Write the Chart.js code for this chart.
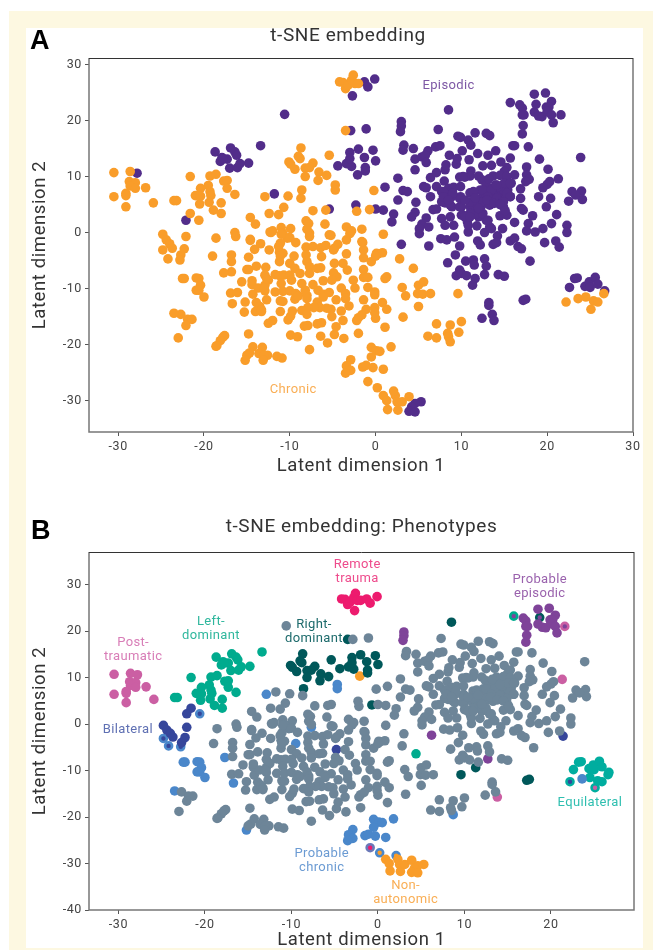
<!DOCTYPE html>
<html><head><meta charset="utf-8">
<script src="https://cdn.jsdelivr.net/npm/chart.js@4"></script>
<style>
html,body{margin:0;padding:0;background:#fff;width:653px;height:950px;overflow:hidden;font-family:Roboto,sans-serif}
#cream{position:absolute;left:9px;top:11px;width:644px;height:939px;background:#fdf8e1}
#white{position:absolute;left:26px;top:28px;width:617px;height:920px;background:#fff}
.w{position:absolute;left:0;overflow:hidden;width:653px}
.letter{position:absolute;font:bold 27px "Liberation Sans",Arial,sans-serif;color:#000;line-height:27px}
</style></head><body>
<div id="cream"></div><div id="white"></div>
<div class="w" style="top:0;height:490px"><canvas id="a" style="display:block"></canvas></div>
<div class="w" style="top:490px;height:460px"><canvas id="b" style="display:block"></canvas></div>
<div class="letter" style="left:30px;top:27px">A</div>
<div class="letter" style="left:31px;top:517px">B</div>
<script>
// Values: [latent dimension 1, latent dimension 2]
const otherChronic=[[-10.2,6.5],[-10.7,4.5],[-12.4,3.4],[-11.3,3.2],[-14.6,2.7],[-14,1.5],[-12.3,0.1],[-12,0.3],[-11,0.9],[-9.9,0.7],[-10.8,-0.1],[-16.4,0],[-16.3,-0.7],[-14.6,-1.2],[-8.1,2.1],[-7.8,1.6],[-8,0.6],[-5.9,1.5],[-5.4,-0.4],[-7.3,3.9],[-5.8,4],[-8.7,6.1],[-10.3,-1],
[-18.6,-1],[-19,-4.2],[-22.7,-14.6],[-21.9,-15.5],[-21.4,-15.5],[-22.1,-16.6],[-23,-18.8],[-17.6,-18.4],[-17.8,-18.7],[-18.1,-19.3],[-18.5,-20.2],[-18.6,-20.3],[-14.8,-18.1],[-14.3,-20.4],[-14.7,-21.5],[-15,-21.9],[-13.2,-20.5],[-13.6,-21.6],[-12.6,-21.9],[-13,-21.9],[-13.1,-22.8],[-11.5,-22.1],[-10.9,-22.4],[-7.7,-20.9],
[-9.9,-18.3],[-9.1,-18.6],[-6.4,-18.5],[-5.6,-19.7],[-3.7,-18.9],[-4.8,-18.2],[-4.6,-16.8],[-2,-18],[-12.5,-16.2],[-12,-15.7],[-8.3,-16.7],[-7.9,-16.6],[-6.8,-16.3],[-6.3,-16.1],[-10.2,-15.6],[-9.9,-14.9],[-9.7,-14],[-11.1,-14.1],[-15.3,-14.2],[-16.9,-10.8],[-16.1,-10.7],[-15.2,-12.4],[-14,-14.1],[-13.3,-14.1],[-13.9,-12.5],[-13.5,-13.2],[-12.7,-12],[-11.1,-12.2],[-10.8,-12.3],[-14.3,-11],[-14.4,-9.3],[-14.4,-8.6],[-15.6,-8.8],[-16.8,-7],
[-15,-6.6],[-14.8,-6.6],[-13.9,-6],[-12.8,-6.2],[-16.8,-4],[-16.8,-5.2],[-14.8,-4.4],[-14.1,-3],[-13.4,-2],[-14.6,-1.4],[-12.4,-3.1],[-11.2,-3.5],[-10.8,-3.7],[-11.2,-5.2],[-11.1,-1.9],[-11.3,-2.5],[-12.2,0],[-11,-0.3],[-10,-0.9],[-9.3,-1.8],[-10,-5.5],[-8.1,-2.6],[-7.3,-2.5],[-6.4,-2.7],[-5.8,-2.3],[-5.2,-0.5],[-7.7,-0.1],[-8.1,-4],[-8,-5.2],[-7.7,-6.1],[-6.8,-6.4],[-6.4,-6.3],[-9.4,-6.4],[-8.8,-7.3],[-7.7,-7.3],[-11.7,-7.5],[-11.2,-7.7],[-10.7,-7.6],[-10,-7.6],[-9.8,-8.5],[-8.6,-9.1],[-11,-9.1],[-12.5,-8.5],[-12.9,-7.6],[-12.9,-9.4],[-13.7,-9.9],[-12.9,-10.4],[-11.7,-10.6],[-10.8,-10.5],[-10,-10.4],[-9.3,-10.9],[-9.4,-11.9],[-9,-11.3],[-8.2,-10.3],[-8,-11.2],[-7.3,-9.3],[-6.7,-10.3],[-6.1,-8.6],[-6.1,-11],[-5.4,-10.7],[-4.9,-7.2],[-4.5,-7.9],[-5.1,-8.5],[-4,-9.9],[-3.5,-10.9],[-4.6,-12],[-3.5,-11.8],[-3.1,-13.1],[-4,-14],[-3.8,-15.7],[-5.2,-13.7],[-5.7,-13.5],[-5.1,-15],[-6.8,-12.4],[-6.5,-13.4],[-7.2,-13.4],[-7.9,-13.4],[-8.6,-13.9],[-8,-14.6],
[-4.8,-2.8],[-4.4,-2.1],[-3.4,-1.3],[-3,-0.2],[-3.4,-3.8],[-3.8,-5.5],[-3.3,-6.7],[-1.5,-1.8],[-1.4,-3.1],[-1.4,-4.5],[0.1,-3.7],[-0.5,-5.2],[-1.4,-6.6],[-1.4,-8],[-0.9,-8],[-2.6,-8.5],[-2.4,-9.9],[-0.9,-9.8],[-0.1,-10.6],[-0.1,-11.1],[-1.4,-12],[-1.1,-13.7],[-2,-15.2],[-2.2,-15.7],[-1.6,-14.7],[-0.1,-13.4],[0,-15.3],[-0.1,-14.3],
[0.9,-0.3],[0.3,-3.8],[0.8,-3.6],[0,-4.2],[2.8,-4.7],[1.3,-7.9],[1.1,-8.2],[3.1,-9.8],[3.5,-11.3],[4.9,-10.9],[5,-9.4],[5.6,-8.8],[5.5,-11],[6.4,-10.9],[5,-13.2],[3.2,-15.1],[1.3,-13.7],[0.8,-12.5],[1.1,-16.9],[10,-15.9],[8.7,-16.5],[7.1,-16.3],[9.7,-17.8],[8.4,-18],[8.5,-18.6],[7.1,-18.8],[6.1,-18.5],
[-0.2,7.5],[-2.2,3.8],[-3.4,1],[-2.8,0.3],[-1.6,0.6],[-1.6,-1.6],[-6.3,-4.3],[-4.9,-3.1],[-11.1,-4.2],[-12.7,-8.2],[-13,-10],[-6.1,-11.5],[-8,-11.8],[-13.3,-13.8]];
const otherEpisodic=[[-10.6,21.1],[-11.8,6.9],[-5.4,4.2],[-2.3,4.9],[-2.9,18.2],[-1.1,18.5],[7.3,18.4],
[3.3,15.6],[3.2,14.7],[4.4,15],[4.6,13.1],[5.4,13.5],[6.1,14.6],[5.8,13.8],[5.9,12.5],[7,15.3],[7.5,15.5],[4.6,11.2],[2.6,9.7],[6.4,9.8],[7.1,10.7],[8.1,11.2],[8.2,12.1],[8.6,13.8],[9.4,12.2],[9.5,13.2],[10.1,14.6],[10.9,13],[11.9,14.1],[13.1,13.8],[14,14.6],[11.6,17.8],[9.6,17.2],[9.9,17],[10.8,16.5],[11.1,15.6],[12.9,17.7],[13.3,17.3],[16,15.5],[16.2,15.5],[17.8,15.3],[19.1,13.1],[23.9,13.4],[17.6,11.7],[20.1,11.3],[15.7,13.3],[14.6,12.6],[15.3,11.6],[15,10.9],[13.5,12],[12.5,11.9],[11.1,11],[11,10.1],[8,9.2],[9.8,9.9],[10.4,9.9],[12,10.1],[12.4,9.4],[13.7,10.1],[14.5,10.2],[16.2,10.3],[17.6,10.3],[17.9,9.5],[17.5,9.1],[20.3,9.1],[20,8.6],[19.5,8],[16.9,7.8],[15.8,8.8],[15.4,7.6],[14,8.5],[15.3,10],
[1.1,8.1],[3.2,7.5],[3.7,7.3],[2.6,5.8],[4.7,5.4],[0,4.2],[0.9,4],[2.1,3.3],[1.9,1.9],[4.6,3.6],[4.2,2.8],[5.9,2.6],[5.4,1.5],[5.1,0.7],[6.2,1],[5.1,-0.2],[3,-2.1],[7.6,-1.1],[8.3,-1.3],[9.2,-0.8],[9.8,-2.4],[9.3,-4],[8.4,-5.4],[5.6,8.2],[5.9,8],[7.1,8.2],[6.4,6.4],[7.7,7.3],[8.5,7.9],[9.1,8.1],[9.9,8.2],[8.3,6.7],[7.7,5.5],[6.7,4.1],[7.1,4.2],[7.7,2.5],[8.1,1.3],[9.1,1.3],[8.7,2.8],[9.9,6.4],[10,4.6],[8.9,4.6],[10,3.1],[10.7,1.9],[10.8,0.1],[11.8,1.2],[11,4.6],[11.4,3.4],[12,2.8],[12.9,2.2],[13.3,1],[12.7,0],[13.5,0.7],[14.5,3],[15.3,3.1],[14.8,0.7],[14.2,-0.6],[11,7.1],[12.2,7.6],[12.9,7.3],[13.7,7.6],[14.5,7],[14.9,7.6],[12.4,6.1],[13.3,5.2],[14.9,5.8],[15.7,6.4],[16.9,6.1],[17,4.3],[17.2,4],[16.2,1.8],[18.3,3],[17.8,1.6],[17.6,0.3],[18.6,0.1],[19.5,0.7],[20.5,1.6],[21.1,3.2],[19.9,4.6],[20.4,6.1],[19,6.4],[22.3,1.3],[22.3,0],[22.9,7.3],[24,7.4],[22.5,5.6],[24.1,5.9],[23.3,6.7],[19.7,-1.8],[21,-1.5],[18,-5.1],[15.7,-1.5],[16.2,-1],[16.6,-2.5],[17,-2.9],[11.9,-1.5],[12.2,-2.2],[13.7,-2.1],[14.1,-1.8],
[7.9,7.3],[8.1,5.3],[9.8,4.6],[12.5,7],[12.9,6.4],[12.4,4.9],[11.8,3.4],[10.2,3.1],[10.8,1.3],[9.8,6.1],[11.4,4.6],[14.1,6.4],[13.3,7.9],[15.3,7],[14.9,4.6],[8.7,4.9],[7.9,6.4],[8.9,6.4],[13.7,6.7],[12.9,8.5],[14.3,8.2],[11.8,5.2],[11,3.4],
[12.5,7.6],[13.5,7.6],[13.1,6.4],[12.5,5.5],[13.3,4.9],[14.1,6.1],[11.4,7.3],[15,8.8],[15.7,8.8],[14.1,8.5],[15.7,6.4],[14.9,5.5],[12.5,3.4],[13.1,2.2],[12,4.3],[11,5.5],[10.4,5.8],[8.6,5.2],[9,7],[8.5,5.8],[10.2,10],[13.2,9.6],[13,5.8],[13.8,5.2],[14.5,5],[15.1,3.9],[10.4,2.8],[11,2.8],[11.6,6.2],
[10.5,-5.1],[11.4,-4.9],[11.5,-5.8],[12.7,-4.7],[12.9,-6],[9.8,-6.7],[9.4,-7.7],[10,-7.3],[10.6,-7.7],[11.6,-8.2],[14.3,-7.5],[15,-7.8],[13.2,-12.5],[13.2,-13],[13.6,-14.6],[12.4,-15.3]];
const postTraumaticChronic=[[-30.5,10.7],[-28.6,10.9],[-28.7,9.1],[-28,8.9],[-28.6,8.3],[-28,7.9],[-26.8,8],[-30.5,6.4],[-29.1,7],[-29.1,6.6],[-29.1,4.6],[-25.9,5.3]];
const postTraumaticEpisodic=[[-27.8,10.6],[13.8,-15.7],[21.3,9.6]];
const leftChronic=[[-21.6,10],[-19.3,10.1],[-18.6,10.4],[-17.7,9.2],[-17.3,9.3],[-17.3,7.9],[-16.4,6.8],[-19.5,8.4],[-20.4,7.9],[-21,6.6],[-20.4,6.5],[-20.5,5.1],[-19.3,7.3],[-19.2,6.6],[-19.4,5.4],[-18,5.3],[-18.9,4],[-18,3.4],[-23.5,5.7],[-23.2,5.7],[4.4,-6.4]];
const leftEpisodic=[[-18.7,14.4],[-16.9,15.1],[-16.4,14.4],[-16.2,13.8],[-17.9,13.4],[-17.3,13.1],[-18.1,12.7],[-17,11.5],[-16.1,11.6],[-15.8,12.3],[-14.8,12.4],[-13.4,15.5],[-17.8,13.1]];
const rightChronic=[[-8.7,15.1],[-9,13.6],[-8.8,13.2],[-10.1,12.6],[-9.9,12.2],[-9.4,11.3],[-8.2,11.5],[-8.2,10],[-7.3,12.4],[-7.7,11.6],[-6.6,10.8],[-6.7,9.3],[-5.7,10.2],[-5.4,13.8],[-8.6,7.6],[-3.5,18.2],[-0.7,4.1],[9.6,-10.9]];
const rightEpisodic=[[-3,14.3],[-2,14.9],[-1.3,13.4],[-0.3,14.7],[0,12.8],[-4.4,11.9],[-3.4,12.3],[-2.8,11.8],[-1.2,11.6],[-1.2,11],[-3,13.2],[8.5,21.9],[11.3,-9.4],[17.2,-12.1],[17.5,-11.9]];
const bilateralChronic=[[-21.6,3.4],[-24.8,-0.3],[-24.4,-1.3],[-24,-2],[-23.7,-2.8],[-22.7,-4],[-22.3,-2.9],[-22.1,-0.7],[-4.8,-5.5]];
const bilateralEpisodic=[[-22.1,2.2],[21.4,-2.6]];
const probableChronic=[[-12.9,6.4],[-4.7,8.5],[-4.7,7.6],[-17.7,-7.2],[-16.7,-12.7],[-9.5,-4.2],[-23.5,-14.4],[-15.2,-22.8],[-22.5,-8.2],[-22.3,-8.2],[-20.9,-8.1],[-20.6,-8.2],[-20.4,-9.4],[-20.9,-10.3],[-20.6,-10.3],[-20,-11.5],[-7.7,-0.7],[8.7,-19.5],[23.6,-11.8],[1.8,-20.4],[0.9,-24.4],[-0.5,-20.5],[0.1,-21.1],[0.5,-21.2],[-0.5,-22.2],[-2.9,-22.7],[-3.4,-23.8],[-2.9,-24.6],[-3.5,-25.1],[-1.5,-24],[-1.1,-23.7],[-0.3,-24.1]];
const remoteChronic=[[-4.2,26.9],[-3.8,26.8],[-3.5,25.7],[-3.2,26.3],[-2.8,27.2],[-2.6,28.1],[-2.4,26.6],[-2,26.6]];
const remoteEpisodic=[[-1.3,26.9],[-0.9,26],[-0.1,27.4],[-2.7,24.4]];
const probableEpisodic=[[3,19.8],[3,19],[2.9,18],[6.2,-2.4],[12.7,-7.5],[16.8,22.8],[17.1,22.2],[17.1,21],[17.3,21],[17.2,19.1],[17.1,17.6],[18.5,24.7],[19.8,24.9],[20.5,23.4],[19.9,22.4],[20.2,22.4],[18.5,21.5],[19,20.8],[19.4,20.7],[20,21.6],[20.5,21],[20.7,19.6]];
const equilateralChronic=[[24.5,-11.5],[25.4,-12.2],[25.9,-12.4],[26.6,-10.9]];
const equilateralEpisodic=[[22.6,-9.8],[23.2,-8.2],[23.5,-8.1],[24.4,-9.6],[24.9,-8.8],[25,-9.8],[25.6,-8],[25.9,-9.2],[26.7,-10.4]];
const nonAutonomicChronic=[[0.9,-29.1],[1.3,-30],[1.4,-31.6],[2.3,-29.1],[2.5,-30.2],[2.6,-31.7],[3.1,-30.2],[3.9,-29.3]];
const nonAutonomicEpisodic=[[-2.1,10.3],[5.3,-30.2],[4.6,-30.5],[4.2,-31.1],[3.9,-31.9],[4.6,-32]];
// Points carrying two phenotypes (ring colour, centre colour)
const ringChronicBilateral=[[-20.6,2.2],[-24.8,-3.1],[-24.2,-4.7],[-22.8,-4.9]];
const ringChronicRemote=[[-0.9,-26.6]];
const ringChronicNonAutonomic=[[0.2,-27.7],[2.1,-28.3]];
const ringEquilateralBilateral=[[22.2,-12.4]];
const ringEquilateralPost=[[25.1,-13.7]];
const ringLeftEpisodic=[[15.7,23.2]];
const ringRightEpisodic=[[18.7,22.9]];
const ringPostEpisodic=[[21.6,21]];
const xTicksA=[-30,-20,-10,0,10,20,30], yTicksA=[-30,-20,-10,0,10,20,30];
const xTicksB=[-30,-20,-10,0,10,20], yTicksB=[-40,-30,-20,-10,0,10,20,30];
const labelsA=[["Episodic",8.5,26.2,"#7d58a5"],["Chronic",-9.6,-28,"#f9ae55"]];
const labelsB=[["Remote",-2.4,34.2,"#ee4b8c"],["trauma",-2.4,31.2,"#ee4b8c"],["Probable",18.7,31,"#9a62ad"],["episodic",18.7,28,"#9a62ad"],["Post-",-28.3,17.4,"#d87db7"],["traumatic",-28.3,14.4,"#d87db7"],["Left-",-19.3,21.9,"#2fb79d"],["dominant",-19.3,18.9,"#2fb79d"],["Right-",-7.4,21.3,"#1c6a6b"],["dominant",-7.4,18.3,"#1c6a6b"],["Bilateral",-28.9,-1.3,"#5f70b3"],["Probable",-6.5,-28,"#6b9bd3"],["chronic",-6.5,-31,"#6b9bd3"],["Non-",3.2,-34.8,"#f9ae55"],["autonomic",3.2,-37.8,"#f9ae55"],["Equilateral",24.5,-17,"#2fbfb0"]];

const ORANGE="#f99d2a",PURPLE="#522d8a",GREY="#6d8598",PINK="#cb5fa3",TEAL="#00ab8e",DARK="#00585a",NAVY="#36469b",BLUE="#4a87ca",RED="#ed1b6e",VIOLET="#7f4399",EQ="#00ad9f";
const pts=a=>a.map(p=>({x:p[0],y:p[1]}));
const R=4.8;
const plain=(label,arr,c)=>({label,data:pts(arr),backgroundColor:c,borderWidth:0,pointRadius:R,pointHoverRadius:R});
const ring=(label,arr,outer,inner)=>({label,data:pts(arr),backgroundColor:inner,borderColor:outer,borderWidth:2.6,pointRadius:3.5,pointHoverRadius:3.5});

const chronicAll=[].concat(otherChronic,postTraumaticChronic,leftChronic,rightChronic,bilateralChronic,probableChronic,remoteChronic,equilateralChronic,nonAutonomicChronic,ringChronicBilateral,ringChronicRemote,ringChronicNonAutonomic,ringEquilateralBilateral,ringEquilateralPost);
const episodicAll=[].concat(otherEpisodic,postTraumaticEpisodic,leftEpisodic,rightEpisodic,bilateralEpisodic,remoteEpisodic,probableEpisodic,equilateralEpisodic,nonAutonomicEpisodic,ringLeftEpisodic,ringRightEpisodic,ringPostEpisodic);

const FONT="Roboto, sans-serif";
const frameAndLabels=(labels)=>({id:'frame',
 beforeDraw(c){if('letterSpacing' in c.ctx)c.ctx.letterSpacing="0.6px";},
 afterDatasetsDraw(c){
  const {ctx,chartArea:a,scales:{x,y}}=c;ctx.save();
  ctx.lineWidth=1.5;ctx.strokeStyle="#777";
  ctx.beginPath();ctx.moveTo(a.left,a.top);ctx.lineTo(a.left,a.bottom);ctx.lineTo(a.right,a.bottom);ctx.lineTo(a.right,a.top);ctx.stroke();
  ctx.lineWidth=1;ctx.strokeStyle="#333";ctx.beginPath();ctx.moveTo(a.left,a.top+.5);ctx.lineTo(a.right,a.top+.5);ctx.stroke();
  ctx.font="13px "+FONT;ctx.textAlign="center";ctx.textBaseline="middle";
  if('letterSpacing' in ctx)ctx.letterSpacing="0.35px";
  labels.forEach(l=>{ctx.fillStyle=l[3];ctx.fillText(l[0],x.getPixelForValue(l[1]),y.getPixelForValue(l[2]));});
  ctx.restore();}});
function axis(range,ticks,extra){return Object.assign({type:'linear',min:range[0],max:range[1],
  grid:{drawOnChartArea:false,drawTicks:true,tickLength:4,tickColor:"#555"},border:{display:false},
  afterBuildTicks(s){s.ticks=ticks.map(v=>({value:v}));},
  ticks:{autoSkip:false,color:"#444",font:{family:FONT,size:12.5},padding:3,maxRotation:0,callback:v=>String(v)}},extra);}
function make(id,w,h,title,pad,rightPad,xR,yR,xT,yT,xH,xTitlePad,fullSize,rightGap,datasets,labels){
  const cv=document.getElementById(id);cv.width=w;cv.height=h;cv.style.width=w+"px";cv.style.height=h+"px";
  const scales={
    x:axis(xR,xT,{afterFit(s){s.height=xH;},title:{display:true,text:"Latent dimension 1",color:"#333",font:{family:FONT,size:18.5},padding:{top:0,bottom:xTitlePad}}}),
    y:axis(yR,yT,{afterFit(s){s.width=89;},title:{display:true,text:"Latent dimension 2",color:"#333",font:{family:FONT,size:18.5},padding:{top:29,bottom:0}}})};
  if(rightGap)scales.gap={type:'linear',position:'right',display:true,grid:{display:false},border:{display:false},ticks:{display:false},afterFit(s){s.width=rightGap;}};
  new Chart(cv,{type:'scatter',data:{datasets},plugins:[frameAndLabels(labels)],options:{
    responsive:false,animation:false,events:[],layout:{padding:{left:0,right:rightPad,top:0,bottom:0}},
    plugins:{legend:{display:false},tooltip:{enabled:false},
      title:{display:true,text:title,fullSize,color:"#333",font:{family:FONT,size:19,weight:'normal'},padding:pad}},
    scales}});
}
make('a',696,480,"t-SNE embedding",{top:24.6,bottom:10.6},0,[-33.4,30],[-35.6,31.16],xTicksA,yTicksA,48,3,true,63,
  [plain("Chronic",chronicAll,ORANGE),plain("Episodic",episodicAll,PURPLE)],labelsA);
make('b',653,465,"t-SNE embedding: Phenotypes",{top:25.6,bottom:13.6},19,[-33.4,29.6],[-40,37],xTicksB,yTicksB,45,4,false,0,
  [plain("Other",[].concat(otherChronic,otherEpisodic),GREY),
   plain("Probable chronic",probableChronic,BLUE),
   plain("Post-traumatic",[].concat(postTraumaticChronic,postTraumaticEpisodic),PINK),
   plain("Left-dominant",[].concat(leftChronic,leftEpisodic),TEAL),
   plain("Right-dominant",[].concat(rightChronic,rightEpisodic),DARK),
   plain("Bilateral",[].concat(bilateralChronic,bilateralEpisodic),NAVY),
   plain("Remote trauma",[].concat(remoteChronic,remoteEpisodic),RED),
   plain("Probable episodic",probableEpisodic,VIOLET),
   plain("Equilateral",[].concat(equilateralChronic,equilateralEpisodic),EQ),
   plain("Non-autonomic",[].concat(nonAutonomicChronic,nonAutonomicEpisodic),ORANGE),
   ring("r1",ringChronicBilateral,BLUE,NAVY),ring("r2",ringChronicRemote,"#6a78b8",RED),ring("r3",ringChronicNonAutonomic,BLUE,ORANGE),
   ring("r4",ringEquilateralBilateral,EQ,NAVY),ring("r5",ringEquilateralPost,EQ,PINK),
   ring("r6",ringLeftEpisodic,TEAL,VIOLET),ring("r7",ringRightEpisodic,DARK,VIOLET),ring("r8",ringPostEpisodic,PINK,VIOLET)],labelsB);
</script>
</body></html>
